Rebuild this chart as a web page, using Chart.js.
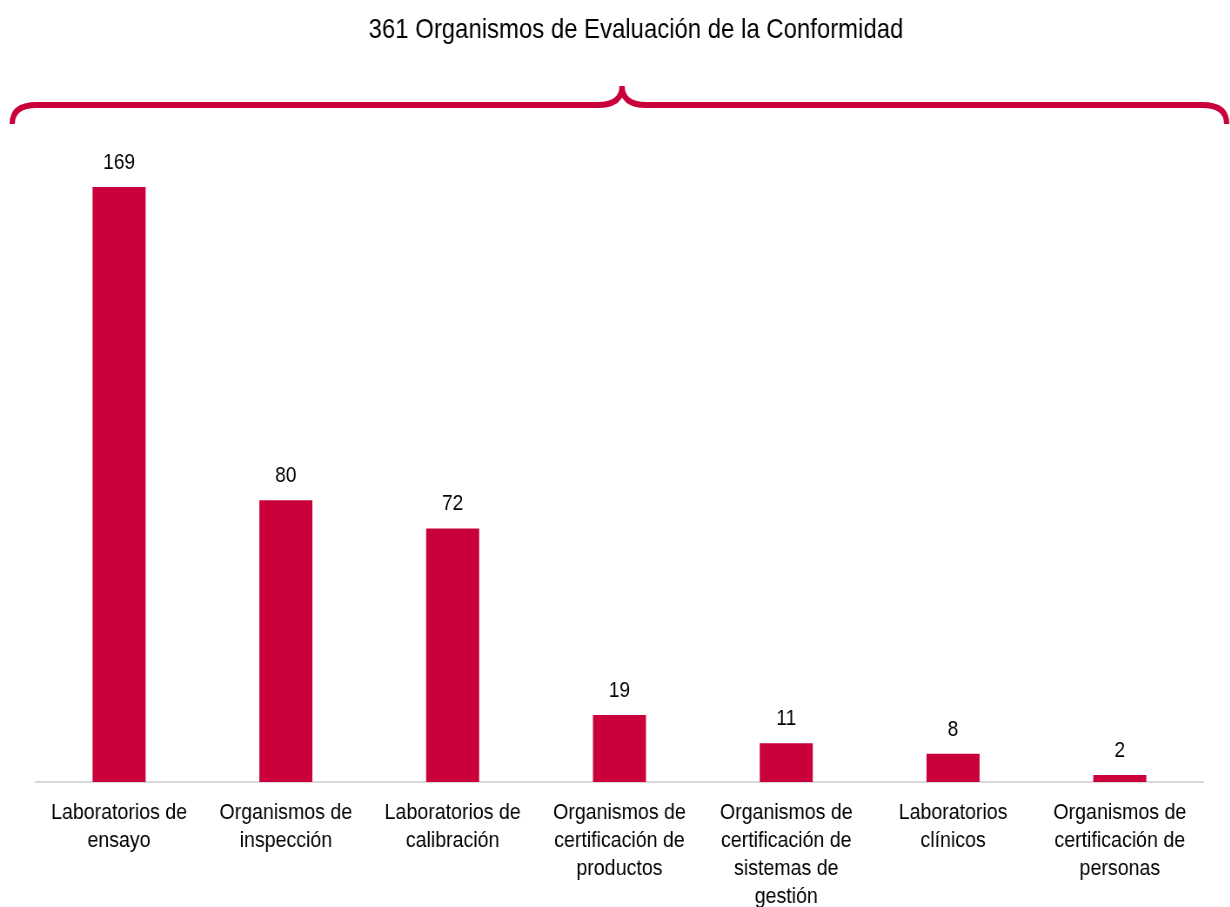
<!DOCTYPE html>
<html>
<head>
<meta charset="utf-8">
<script src="https://cdn.jsdelivr.net/npm/chart.js@4"></script>
<style>
  html, body { margin: 0; padding: 0; background: #fff; overflow: hidden; }
  /* the original image is horizontally squeezed, so draw wide and compress */
  #wrap { width: 1414px; height: 907px; transform: scaleX(0.87); transform-origin: 0 0; }
</style>
</head>
<body>
<div id="wrap"><canvas id="c"></canvas></div>
<script>
const categories = [
  ['Laboratorios de', 'ensayo'],
  ['Organismos de', 'inspección'],
  ['Laboratorios de', 'calibración'],
  ['Organismos de', 'certificación de', 'productos'],
  ['Organismos de', 'certificación de', 'sistemas de', 'gestión'],
  ['Laboratorios', 'clínicos'],
  ['Organismos de', 'certificación de', 'personas'],
];
const counts = [169, 80, 72, 19, 11, 8, 2];
const titleText = '361 Organismos de Evaluación de la Conformidad';

const RED = '#C9003A';
const FONT = '"Liberation Sans", Arial, sans-serif';
Chart.defaults.font.family = FONT;
Chart.defaults.color = '#000';

// value labels above each bar
const barLabels = {
  id: 'barLabels',
  afterDatasetsDraw(chart) {
    const { ctx } = chart;
    const meta = chart.getDatasetMeta(0);
    ctx.save();
    ctx.font = '22px ' + FONT;
    ctx.fillStyle = '#000';
    ctx.textAlign = 'center';
    ctx.textBaseline = 'alphabetic';
    meta.data.forEach((bar, i) => {
      ctx.fillText(String(counts[i]), bar.x, bar.y - 18);
    });
    ctx.restore();
  }
};

// title plus the curly brace under it (title sits a bit right of centre)
const braceTitle = {
  id: 'braceTitle',
  afterDraw(chart) {
    const { ctx } = chart;
    ctx.save();
    ctx.font = '27.5px ' + FONT;
    ctx.fillStyle = '#000';
    ctx.textAlign = 'center';
    ctx.textBaseline = 'middle';
    ctx.fillText(titleText, 731, 30.5);

    const left = 14, right = 1410, mid = 715;
    const yLine = 105, yEnd = 124, yTip = 86, rx = 28, mx = 28;
    ctx.strokeStyle = RED;
    ctx.lineWidth = 6;
    ctx.beginPath();
    ctx.moveTo(left, yEnd);
    ctx.quadraticCurveTo(left, yLine, left + rx, yLine);
    ctx.lineTo(mid - mx, yLine);
    ctx.quadraticCurveTo(mid, yLine, mid, yTip);
    ctx.quadraticCurveTo(mid, yLine, mid + mx, yLine);
    ctx.lineTo(right - rx, yLine);
    ctx.quadraticCurveTo(right, yLine, right, yEnd);
    ctx.stroke();
    ctx.restore();
  }
};

new Chart(document.getElementById('c'), {
  type: 'bar',
  data: {
    labels: categories,
    datasets: [{
      data: counts,
      backgroundColor: RED,
      borderWidth: 0,
      categoryPercentage: 1,
      barPercentage: 0.318,
    }],
  },
  options: {
    responsive: true,
    maintainAspectRatio: false,
    animation: false,
    layout: { padding: { left: 41, right: 31, top: 113, bottom: 0 } },
    plugins: {
      legend: { display: false },
      tooltip: { enabled: false },
      title: { display: false },
    },
    scales: {
      x: {
        grid: { display: false, drawTicks: false },
        border: { display: true, color: '#d9d9d9', width: 2 },
        ticks: {
          font: { size: 22.5, lineHeight: 1.244 },
          color: '#000',
          padding: 17,
          maxRotation: 0,
          autoSkip: false,
        },
        afterFit(scale) { scale.height = 125; },
      },
      y: {
        display: false,
        min: 0,
        max: 190,
      },
    },
  },
  plugins: [barLabels, braceTitle],
});
</script>
</body>
</html>
